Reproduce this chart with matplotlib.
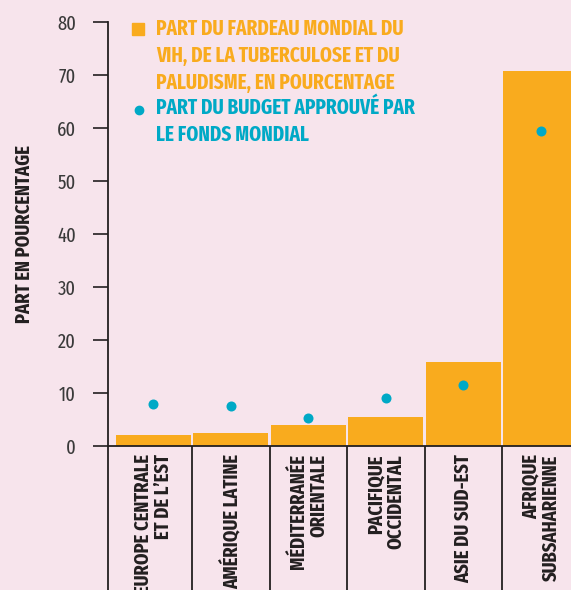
import matplotlib
matplotlib.use("Agg")
import matplotlib.pyplot as plt
from matplotlib.lines import Line2D

# Regions and values (percent)
regions = [
    "EUROPE CENTRALE\nET DE L\u2019EST",
    "AMÉRIQUE LATINE",
    "MÉDITERRANÉE\nORIENTALE",
    "PACIFIQUE\nOCCIDENTAL",
    "ASIE DU SUD-EST",
    "AFRIQUE\nSUBSAHARIENNE",
]
burden_share = [2.1, 2.5, 4.0, 5.5, 15.9, 70.8]
budget_share = [7.9, 7.6, 5.3, 9.1, 11.6, 59.4]
y_ticks = [0, 10, 20, 30, 40, 50, 60, 70, 80]

legend_burden = "PART DU FARDEAU MONDIAL DU\nVIH, DE LA TUBERCULOSE ET DU\nPALUDISME, EN POURCENTAGE"
legend_budget = "PART DU BUDGET APPROUVÉ PAR\nLE FONDS MONDIAL"
y_title = "PART EN POURCENTAGE"

BG = "#F7E4EC"
ORANGE = "#F9AB1E"
TEAL = "#00A9C6"
DARK = "#231F20"
GREY = "#3A3A3A"

FONT = ["Fira Sans Extra Condensed", "DejaVu Sans"]
plt.rcParams["font.family"] = FONT

fig = plt.figure(figsize=(5.71, 5.90), dpi=100, facecolor=BG)
ax = fig.add_axes([0.1891, 0.2436, 1 - 0.1891, 0.9622 - 0.2436])
ax.set_facecolor(BG)

x = list(range(len(regions)))
ax.bar(x, burden_share, width=0.97, color=ORANGE, zorder=2)
ax.scatter(x, budget_share, s=52, color=TEAL, zorder=3, linewidths=0)

ax.set_ylim(0, 80)
ax.set_xlim(-0.585, 5.39)
ax.set_yticks(y_ticks)
ax.set_yticklabels([str(v) for v in y_ticks], fontsize=14.5, color=GREY)
ax.tick_params(axis="y", direction="out", length=11, width=1.2, color=DARK, pad=12)
ax.set_xticks([])

for side in ("top", "right"):
    ax.spines[side].set_visible(False)
for side in ("left", "bottom"):
    ax.spines[side].set_linewidth(1.3)
    ax.spines[side].set_color(DARK)

# Vertical separators between category columns below the axis
trans = ax.get_xaxis_transform()
for b in [-0.585, 0.5, 1.5, 2.5, 3.5, 4.5]:
    ax.plot([b, b], [0, -0.36], transform=trans, color=DARK, lw=1.3,
            clip_on=False, solid_capstyle="butt")

# Rotated category labels
for xi, name in zip(x, regions):
    ax.text(xi, -0.019, name, transform=trans, rotation=90, ha="center", va="top",
            multialignment="right", fontsize=14.5, fontweight="bold", color=DARK,
            linespacing=1.05)

fig.text(0.042, 0.604, y_title, rotation=90, ha="center", va="center",
         fontsize=14.5, fontweight="bold", color=DARK)

# Legend: marker glyphs plus coloured text blocks
fig.add_artist(Line2D([0.2417], [0.9508], marker="s", markersize=8.6, color=ORANGE,
                      linestyle="none", transform=fig.transFigure))
fig.text(0.2732, 0.969, legend_burden, color=ORANGE, fontsize=15, fontweight="bold",
         ha="left", va="top", linespacing=1.33)
fig.add_artist(Line2D([0.2426], [0.8144], marker="o", markersize=6, color=TEAL,
                      linestyle="none", transform=fig.transFigure))
fig.text(0.2732, 0.835, legend_budget, color=TEAL, fontsize=15, fontweight="bold",
         ha="left", va="top", linespacing=1.33)

fig.savefig("out.png", dpi=100, facecolor=BG)
